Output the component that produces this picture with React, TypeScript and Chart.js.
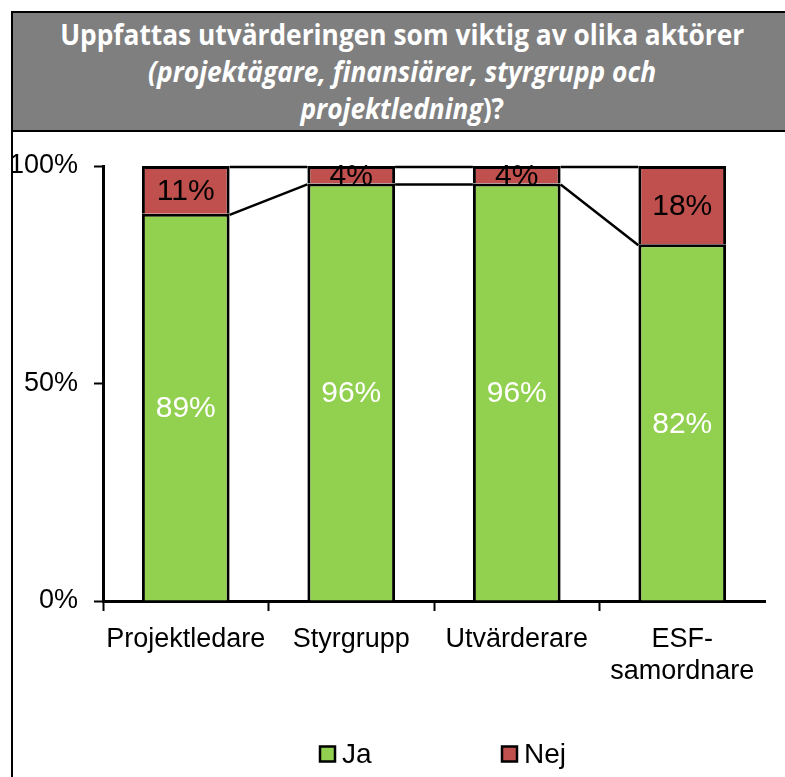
import React, { useEffect, useLayoutEffect, useRef } from 'react';
import { Chart, registerables } from 'chart.js';

Chart.register(...registerables);

// ---------- data ----------
const categories: (string | string[])[] = ['Projektledare', 'Styrgrupp', 'Utvärderare', ['ESF-', 'samordnare']];
const seriesNames = ['Ja', 'Nej'];
const jaValues = [89, 96, 96, 82];
const nejValues = [11, 4, 4, 18];
const yTickValues = [0, 50, 100];
const yTickLabels = ['0%', '50%', '100%'];
const titleLine1 = 'Uppfattas utvärderingen som viktig av olika aktörer';
const titleLine2 = '(projektägare, finansiärer, styrgrupp och';
const titleLine3Italic = 'projektledning';
const titleLine3Rest = ')?';

// ---------- style ----------
const GREEN = '#92D050';
const RED = '#C0504D';
const FONT = "'Liberation Sans', Arial, sans-serif";
const TITLE_LINE1_WIDTH = 684;

const seriesLinesPlugin = {
  id: 'seriesLines',
  afterDatasetsDraw(chart: any) {
    const ctx = chart.ctx;
    ctx.save();
    ctx.strokeStyle = '#000';
    ctx.lineWidth = 2.5;
    chart.data.datasets.forEach((_: any, d: number) => {
      const meta = chart.getDatasetMeta(d);
      for (let i = 0; i < meta.data.length - 1; i++) {
        const a = meta.data[i];
        const b = meta.data[i + 1];
        ctx.beginPath();
        ctx.moveTo(a.x + a.width / 2, a.y + 1);
        ctx.lineTo(b.x - b.width / 2, b.y + 1);
        ctx.stroke();
      }
    });
    ctx.restore();
  },
};

const dataLabelsPlugin = {
  id: 'barLabels',
  afterDatasetsDraw(chart: any) {
    const ctx = chart.ctx;
    ctx.save();
    ctx.font = `30px ${FONT}`;
    ctx.textAlign = 'center';
    ctx.textBaseline = 'middle';
    chart.data.datasets.forEach((ds: any, d: number) => {
      const meta = chart.getDatasetMeta(d);
      meta.data.forEach((bar: any, i: number) => {
        ctx.fillStyle = d === 0 ? '#fff' : '#000';
        ctx.fillText(`${ds.data[i]}%`, bar.x, (bar.y + bar.base) / 2 + 2);
      });
    });
    ctx.restore();
  },
};

const legendPlugin = {
  id: 'customLegend',
  afterDraw(chart: any) {
    const ctx = chart.ctx;
    const area = chart.chartArea;
    const startX = area.left + 217;
    const gap = 182;
    const cy = area.bottom + 153;
    const box = 15;
    ctx.save();
    ctx.font = `28px ${FONT}`;
    ctx.textBaseline = 'middle';
    ctx.textAlign = 'left';
    chart.data.datasets.forEach((ds: any, i: number) => {
      const x = startX + i * gap;
      ctx.fillStyle = ds.backgroundColor;
      ctx.fillRect(x, cy - box / 2, box, box);
      ctx.strokeStyle = '#000';
      ctx.lineWidth = 2.5;
      ctx.strokeRect(x, cy - box / 2, box, box);
      ctx.fillStyle = '#000';
      ctx.fillText(ds.label, x + box + 7, cy + 1);
    });
    ctx.restore();
  },
};

function Title() {
  const ref = useRef<HTMLDivElement>(null);
  useLayoutEffect(() => {
    const el = ref.current;
    if (!el) return;
    const first = el.querySelector('.tl1') as HTMLElement;
    const w = first.getBoundingClientRect().width;
    const s = w > 0 ? TITLE_LINE1_WIDTH / w : 1;
    el.querySelectorAll('.tl').forEach((n) => {
      (n as HTMLElement).style.transform = `scaleX(${s})`;
    });
  }, []);
  const lineStyle: React.CSSProperties = {
    display: 'inline-block',
    whiteSpace: 'nowrap',
    transformOrigin: 'center',
  };
  return (
    <div
      ref={ref}
      style={{
        height: 119,
        boxSizing: 'border-box',
        background: '#7F7F7F',
        borderBottom: '2px solid #000',
        color: '#fff',
        fontFamily: "'Open Sans', sans-serif",
        fontWeight: 700,
        fontSize: 29,
        lineHeight: '37px',
        textAlign: 'center',
        paddingTop: 2,
        paddingLeft: 6,
      }}
    >
      <div>
        <span className="tl tl1" style={lineStyle}>{titleLine1}</span>
      </div>
      <div>
        <span className="tl" style={{ ...lineStyle, fontStyle: 'italic' }}>{titleLine2}</span>
      </div>
      <div>
        <span className="tl" style={lineStyle}>
          <i>{titleLine3Italic}</i>
          {titleLine3Rest}
        </span>
      </div>
    </div>
  );
}

function BarChart() {
  const canvasRef = useRef<HTMLCanvasElement>(null);
  useEffect(() => {
    if (!canvasRef.current) return;
    const chart = new Chart(canvasRef.current, {
      type: 'bar',
      data: {
        labels: categories,
        datasets: [
          {
            label: seriesNames[0],
            data: jaValues,
            backgroundColor: GREEN,
            borderColor: '#000',
            borderWidth: 3,
            categoryPercentage: 1,
            barPercentage: 0.53,
          },
          {
            label: seriesNames[1],
            data: nejValues,
            backgroundColor: RED,
            borderColor: '#000',
            borderWidth: 3,
            categoryPercentage: 1,
            barPercentage: 0.53,
          },
        ],
      },
      options: {
        animation: false,
        responsive: true,
        maintainAspectRatio: false,
        events: [],
        layout: { padding: { top: 34, right: 20, left: 0, bottom: 0 } },
        plugins: {
          legend: { display: false },
          tooltip: { enabled: false },
          title: { display: false },
        },
        scales: {
          x: {
            stacked: true,
            offset: true,
            afterFit: (scale: any) => {
              scale.height = 174;
            },
            grid: {
              display: true,
              drawOnChartArea: false,
              drawTicks: true,
              offset: true,
              tickLength: 10,
              tickWidth: 2,
              tickColor: (ctx: any) => (ctx.type === 'tick' ? '#000' : 'rgba(0,0,0,0)'),
            },
            border: { display: true, color: '#000', width: 3 },
            ticks: {
              color: '#000',
              font: { family: FONT, size: 27 },
              padding: 12,
              maxRotation: 0,
              autoSkip: false,
            },
          },
          y: {
            stacked: true,
            min: 0,
            max: 100,
            afterBuildTicks: (scale: any) => {
              scale.ticks = yTickValues.map((v) => ({ value: v }));
            },
            afterFit: (scale: any) => {
              scale.width = 90;
            },
            grid: {
              display: true,
              drawOnChartArea: false,
              drawTicks: true,
              tickLength: 9,
              tickWidth: 2,
              tickColor: '#000',
            },
            border: { display: true, color: '#000', width: 3 },
            ticks: {
              color: '#000',
              font: { family: FONT, size: 27 },
              padding: 16,
              callback: (_v: any, i: number) => yTickLabels[i],
            },
          },
        },
      },
      plugins: [seriesLinesPlugin, dataLabelsPlugin, legendPlugin],
    });
    return () => chart.destroy();
  }, []);
  return (
    <div style={{ position: 'relative', width: 772, height: 643 }}>
      <canvas ref={canvasRef} />
    </div>
  );
}

export default function App() {
  return (
    <div
      style={{
        position: 'absolute',
        left: 11,
        top: 11,
        width: 774,
        height: 766,
        boxSizing: 'border-box',
        borderLeft: '2px solid #000',
        borderTop: '2px solid #000',
        background: '#fff',
        overflow: 'hidden',
      }}
    >
      <Title />
      <BarChart />
    </div>
  );
}
